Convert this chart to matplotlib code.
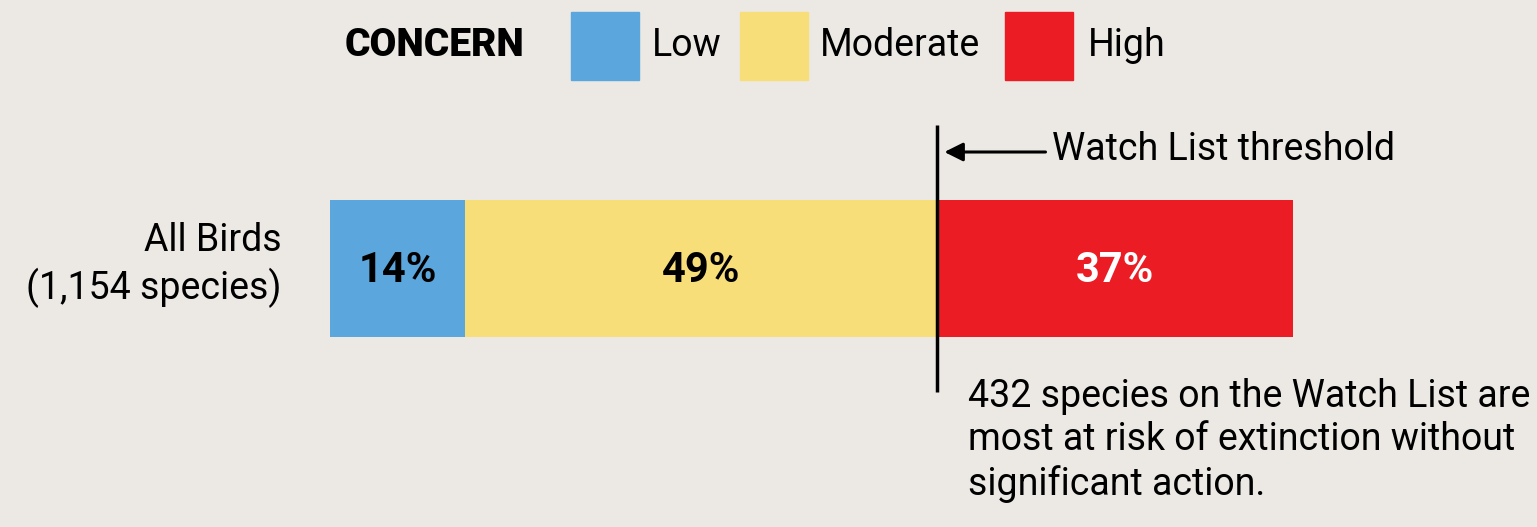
import matplotlib
matplotlib.use("Agg")
import matplotlib.pyplot as plt
from matplotlib import font_manager

# pick a narrow font if one is installed
names = set(f.name for f in font_manager.fontManager.ttflist)
font = "Liberation Sans Narrow" if "Liberation Sans Narrow" in names else "Roboto"
plt.rcParams["font.family"] = [font, "DejaVu Sans"]

categories = ["Low", "Moderate", "High"]
shares = [14, 49, 37]
colors = ["#5BA6DD", "#F8DE78", "#EC1C24"]
text_colors = ["black", "black", "white"]
row_label = "All Birds\n(1,154 species)"
note = "432 species on the Watch List are\nmost at risk of extinction without\nsignificant action."

bg = "#ECE9E5"
W, H = 1537, 527
fig = plt.figure(figsize=(W / 100, H / 100), dpi=100, facecolor=bg)

# axes: x in percent, y in pixel rows from top
ax = fig.add_axes([330 / W, 0, 963 / W, 1])
ax.set_xlim(0, 100)
ax.set_ylim(H, 0)
ax.axis("off")

bar_y, bar_h = 268, 137
left = 0
for cat, s, c, tc in zip(categories, shares, colors, text_colors):
    ax.barh(bar_y, s, left=left, height=bar_h, color=c, edgecolor="none")
    ax.text(left + s / 2, bar_y + 2, f"{s}%", ha="center", va="center",
            fontsize=30, fontweight="bold", color=tc)
    left += s

# threshold line at the start of the High segment
thr = shares[0] + shares[1]
ax.plot([thr, thr], [125, 392], color="black", lw=2.5, solid_capstyle="butt")
ax.annotate("", xy=(thr + 0.8, 152), xytext=(thr + 11.3, 152),
            arrowprops=dict(arrowstyle="-|>", color="black", lw=2.2,
                            mutation_scale=28, shrinkA=0, shrinkB=0))
ax.text(thr + 12.0, 150, "Watch List threshold", ha="left", va="center",
        fontsize=27)
ax.text(thr + 3.3, 378, note, ha="left", va="top", fontsize=27,
        linespacing=1.22)

ax.text(-5, 265, row_label, ha="right", va="center", fontsize=27,
        linespacing=1.3, multialignment="right")

# legend row
fig.text(345 / W, 1 - 46 / H, "CONCERN", ha="left", va="center",
         fontsize=28, fontweight="black")
boxes = [(571, "Low", 652), (740, "Moderate", 820), (1005, "High", 1088)]
for (bx, lab, tx), c in zip(boxes, colors):
    fig.patches.append(plt.Rectangle((bx / W, 1 - 80 / H), 68 / W, 68 / H,
                                     transform=fig.transFigure, color=c))
    fig.text(tx / W, 1 - 46 / H, lab, ha="left", va="center", fontsize=27)

fig.savefig("out.png", dpi=100, facecolor=bg)
